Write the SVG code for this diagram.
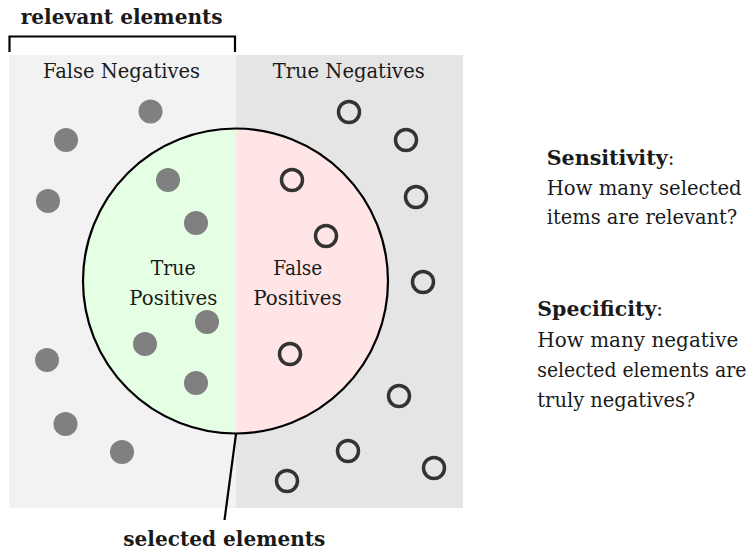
<svg xmlns="http://www.w3.org/2000/svg" width="753" height="552" viewBox="0 0 753 552">
  <style>
    text { font-family: "DejaVu Serif", "Liberation Serif", "Noto Serif", serif; font-size: 20px; fill: #1a1a1a; }
    .bold { font-weight: bold; }
    .pos { fill: #808080; }
    .neg { fill: none; stroke: #333333; stroke-width: 3.5; }
    .edge { fill: none; stroke: #000000; stroke-width: 2.2; }
  </style>

  <!-- background halves: relevant (left) / not relevant (right) -->
  <g id="panel-false-negatives">
    <rect x="9" y="55" width="227" height="453" fill="#f2f2f2"/>
    <text x="43" y="78" textLength="157" lengthAdjust="spacingAndGlyphs">False Negatives</text>
  </g>
  <g id="panel-true-negatives">
    <rect x="236" y="55" width="227" height="453" fill="#e5e5e5"/>
    <text x="272.7" y="78" textLength="152" lengthAdjust="spacingAndGlyphs">True Negatives</text>
  </g>

  <!-- selected elements circle, split into true / false positives -->
  <g id="selected-circle">
    <path d="M235.5,128.5 A152.5,152.5 0 0 0 235.5,433.5 Z" fill="#e5ffe5"/>
    <path d="M235.5,128.5 A152.5,152.5 0 0 1 235.5,433.5 Z" fill="#ffe5e5"/>
    <circle cx="235.5" cy="281" r="152.5" class="edge"/>
  </g>
  <g id="label-true-positives">
    <text x="150.7" y="275" textLength="45" lengthAdjust="spacingAndGlyphs">True</text>
    <text x="129.3" y="305" textLength="88" lengthAdjust="spacingAndGlyphs">Positives</text>
  </g>
  <g id="label-false-positives">
    <text x="273.3" y="275" textLength="49" lengthAdjust="spacingAndGlyphs">False</text>
    <text x="253.3" y="305" textLength="88.4" lengthAdjust="spacingAndGlyphs">Positives</text>
  </g>

  <!-- relevant items (filled) -->
  <g id="relevant-items">
    <circle class="pos" cx="150.5" cy="111.5" r="12"/>
    <circle class="pos" cx="66" cy="140" r="12"/>
    <circle class="pos" cx="168" cy="180" r="12"/>
    <circle class="pos" cx="48" cy="201" r="12"/>
    <circle class="pos" cx="196" cy="223" r="12"/>
    <circle class="pos" cx="207" cy="322" r="12"/>
    <circle class="pos" cx="145" cy="344" r="12"/>
    <circle class="pos" cx="47" cy="360" r="12"/>
    <circle class="pos" cx="196" cy="383" r="12"/>
    <circle class="pos" cx="65.5" cy="424" r="12"/>
    <circle class="pos" cx="122" cy="452" r="12"/>
  </g>

  <!-- non-relevant items (hollow) -->
  <g id="irrelevant-items">
    <circle class="neg" cx="349" cy="112" r="10.5"/>
    <circle class="neg" cx="406" cy="140" r="10.5"/>
    <circle class="neg" cx="292" cy="180" r="10.5"/>
    <circle class="neg" cx="416" cy="197" r="10.5"/>
    <circle class="neg" cx="326" cy="236" r="10.5"/>
    <circle class="neg" cx="423" cy="282" r="10.5"/>
    <circle class="neg" cx="290" cy="354" r="10.5"/>
    <circle class="neg" cx="399" cy="396" r="10.5"/>
    <circle class="neg" cx="348" cy="451" r="10.5"/>
    <circle class="neg" cx="434" cy="468" r="10.5"/>
    <circle class="neg" cx="287" cy="481" r="10.5"/>
  </g>

  <!-- bracket and pointer -->
  <g id="connectors">
    <path class="edge" d="M9.5,52 V36.5 H235 V52"/>
    <path class="edge" d="M236,434 L224.5,520"/>
  </g>

  <g id="label-relevant">
    <text class="bold" x="20.7" y="23.5" textLength="202" lengthAdjust="spacingAndGlyphs">relevant elements</text>
  </g>
  <g id="label-selected">
    <text class="bold" x="123.3" y="546" textLength="202" lengthAdjust="spacingAndGlyphs">selected elements</text>
  </g>

  <!-- definitions on the right -->
  <g id="note-sensitivity">
    <text x="546.7" y="165"><tspan class="bold" textLength="121" lengthAdjust="spacingAndGlyphs">Sensitivity</tspan>:</text>
    <text x="546.7" y="195" textLength="195" lengthAdjust="spacingAndGlyphs">How many selected</text>
    <text x="546.7" y="224" textLength="190.6" lengthAdjust="spacingAndGlyphs">items are relevant?</text>
  </g>
  <g id="note-specificity">
    <text x="537.3" y="316"><tspan class="bold" textLength="119" lengthAdjust="spacingAndGlyphs">Specificity</tspan>:</text>
    <text x="537.3" y="346.5" textLength="201" lengthAdjust="spacingAndGlyphs">How many negative</text>
    <text x="537.3" y="376.5" font-size="18" textLength="209" lengthAdjust="spacingAndGlyphs">selected elements are</text>
    <text x="537.3" y="406.5" textLength="158" lengthAdjust="spacingAndGlyphs">truly negatives?</text>
  </g>
</svg>
